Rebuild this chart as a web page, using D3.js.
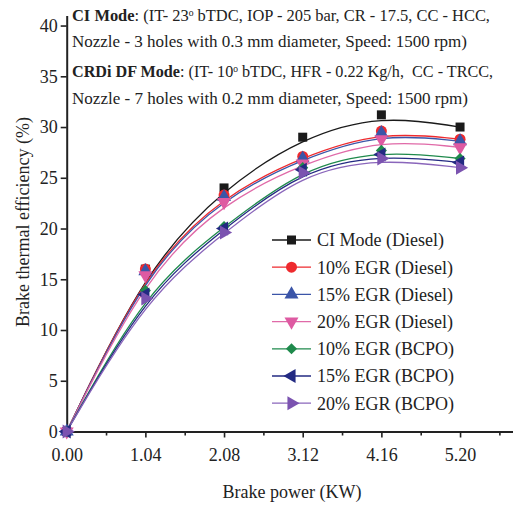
<!DOCTYPE html>
<html><head><meta charset="utf-8">
<script src="https://cdn.jsdelivr.net/npm/d3@7"></script>
<style>
html,body{margin:0;padding:0;background:#fff;}
svg text{font-family:"Liberation Serif","Times New Roman",serif;fill:#222;}
</style></head>
<body><svg id="c" width="513" height="506"></svg>
<script>
// ---- data ----
const brakePower = [0, 1.04, 2.08, 3.12, 4.16, 5.20];
const xTickLabels = ["0.00", "1.04", "2.08", "3.12", "4.16", "5.20"];
const yTickValues = [0, 5, 10, 15, 20, 25, 30, 35, 40];
const seriesNames = ["CI Mode (Diesel)", "10% EGR (Diesel)", "15% EGR (Diesel)", "20% EGR (Diesel)",
                     "10% EGR (BCPO)", "15% EGR (BCPO)", "20% EGR (BCPO)"];
const ciDiesel    = [0, 16.0, 24.0, 29.0, 31.2, 30.0];
const egr10Diesel = [0, 16.0, 23.3, 27.1, 29.6, 28.8];
const egr15Diesel = [0, 15.8, 23.1, 26.9, 29.4, 28.6];
const egr20Diesel = [0, 15.4, 22.6, 26.4, 28.8, 28.0];
const egr10BCPO   = [0, 13.9, 20.2, 26.0, 27.7, 26.9];
const egr15BCPO   = [0, 13.5, 20.0, 25.8, 27.3, 26.5];
const egr20BCPO   = [0, 13.1, 19.6, 25.5, 26.9, 26.0];
const allSeries = [ciDiesel, egr10Diesel, egr15Diesel, egr20Diesel, egr10BCPO, egr15BCPO, egr20BCPO];

const colors = ["#1a1a1a", "#ee2a2e", "#3b55a8", "#de5aa2", "#1f8a4c", "#232a82", "#7b53b0"];
const lineColors = ["#1a1a1a", "#ee2a2e", "#3b55a8", "#e06aa8", "#1f8a4c", "#232a82", "#8a66bb"];
const symbols = [
  {t: d3.symbolSquare, s: 81, r: 0},
  {t: d3.symbolCircle, s: 95, r: 0},
  {t: d3.symbolTriangle, s: 85, r: 0},
  {t: d3.symbolTriangle, s: 85, r: 180},
  {t: d3.symbolSquare, s: 62, r: 45},
  {t: d3.symbolTriangle, s: 85, r: -90},
  {t: d3.symbolTriangle, s: 85, r: 90}
];

const svg = d3.select("#c");
const x = d3.scaleLinear().domain([0, 5.90]).range([66.7, 513]);
const y = d3.scaleLinear().domain([0, 41]).range([431.5, 15.4]);

// axes
const gy = svg.append("g").attr("transform", `translate(${x(0)},0)`)
  .call(d3.axisLeft(y).tickValues(yTickValues).tickSize(6).tickSizeOuter(0).tickPadding(3).tickFormat(d3.format("d")));
const gx = svg.append("g").attr("transform", `translate(0,${y(0)})`)
  .call(d3.axisBottom(x).tickValues(brakePower).tickSize(6).tickSizeOuter(0).tickPadding(11)
        .tickFormat((d, i) => xTickLabels[i]));
const minorX = brakePower.map(v => v + 0.52);
const gxm = svg.append("g").attr("transform", `translate(0,${y(0)})`)
  .call(d3.axisBottom(x).tickValues(minorX).tickSize(4).tickSizeOuter(0).tickFormat(""));
gxm.select(".domain").remove();
[gx, gy, gxm].forEach(g => {
  g.selectAll(".domain").attr("stroke", "#222").attr("stroke-width", 2);
  g.selectAll(".tick line").attr("stroke", "#222").attr("stroke-width", 1.6);
  g.selectAll("text").attr("font-size", 18).attr("font-family", "Liberation Serif").attr("fill", "#222");
});

// curves
const line = d3.line().x((d, i) => x(brakePower[i])).y(d => y(d)).curve(d3.curveBasis);
const plot = svg.append("g");
allSeries.forEach((vals, k) => {
  plot.append("path").attr("d", line(vals)).attr("fill", "none")
    .attr("stroke", lineColors[k]).attr("stroke-width", 1.3);
});
allSeries.forEach((vals, k) => {
  const sym = d3.symbol().type(symbols[k].t).size(symbols[k].s);
  plot.selectAll(null).data(vals).enter().append("path")
    .attr("d", sym)
    .attr("transform", (d, i) => `translate(${x(brakePower[i])},${y(d)}) rotate(${symbols[k].r})`)
    .attr("fill", colors[k]);
});

// legend
const leg = svg.append("g");
seriesNames.forEach((name, k) => {
  const cy = 240 + k * 27.2;
  leg.append("line").attr("x1", 272).attr("x2", 311).attr("y1", cy).attr("y2", cy)
    .attr("stroke", lineColors[k]).attr("stroke-width", 1.3);
  const sym = d3.symbol().type(symbols[k].t).size(symbols[k].s);
  leg.append("path").attr("d", sym)
    .attr("transform", `translate(291.5,${cy}) rotate(${symbols[k].r})`).attr("fill", colors[k]);
  leg.append("text").attr("x", 317).attr("y", cy).attr("dy", "0.35em")
    .attr("font-size", 18).text(name);
});

// axis titles
svg.append("text").attr("x", 292).attr("y", 498).attr("text-anchor", "middle")
  .attr("font-size", 18).text("Brake power (KW)");
svg.append("text").attr("transform", "translate(29,222) rotate(-90)").attr("text-anchor", "middle")
  .attr("font-size", 18).text("Brake thermal efficiency (%)");

// annotation
const ann = svg.append("g").attr("font-size", 17);
function annLine(yy, len, parts) {
  const t = ann.append("text").attr("x", 72).attr("y", yy).attr("font-size", 17)
    .attr("textLength", len).attr("lengthAdjust", "spacingAndGlyphs");
  parts.forEach(p => {
    const ts = t.append("tspan").text(p.s);
    if (p.b) ts.attr("font-weight", "bold");
  });
}
annLine(21, 418, [{s: "CI Mode", b: 1}, {s: ": (IT- 23\u1D52 bTDC, IOP - 205 bar, CR - 17.5, CC - HCC,"}]);
annLine(47, 395, [{s: "Nozzle - 3 holes with 0.3 mm diameter, Speed: 1500 rpm)"}]);
annLine(77, 421, [{s: "CRDi DF Mode", b: 1}, {s: ": (IT- 10\u1D52 bTDC, HFR - 0.22 Kg/h,\u00A0 CC - TRCC,"}]);
annLine(104, 396, [{s: "Nozzle - 7 holes with 0.2 mm diameter, Speed: 1500 rpm)"}]);
</script></body></html>
